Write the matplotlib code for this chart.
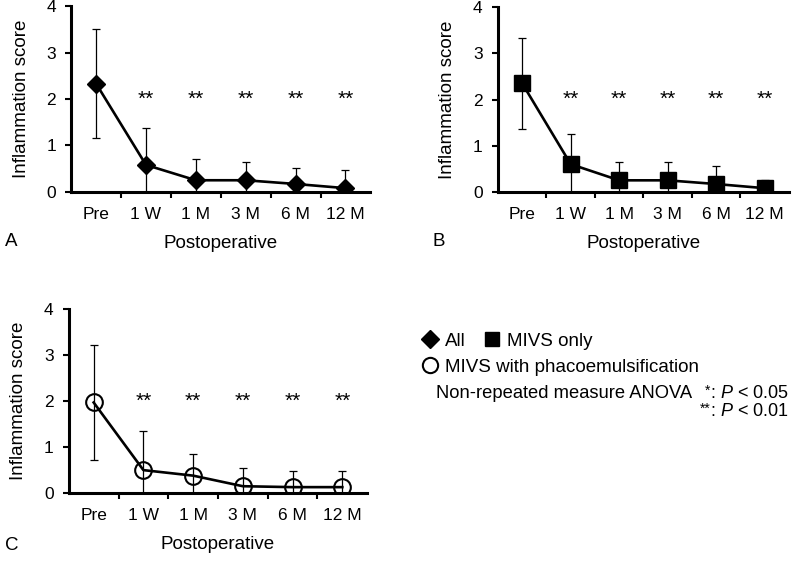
"""Inflammation score after MIVS: panels A (all), B (MIVS only), C (MIVS + phaco)."""

import matplotlib.pyplot as plt
from matplotlib.lines import Line2D

plt.rcParams["font.family"] = ["Liberation Sans", "DejaVu Sans"]
plt.rcParams["mathtext.fontset"] = "custom"
plt.rcParams["mathtext.rm"] = "Liberation Sans"
plt.rcParams["mathtext.it"] = "Liberation Sans:italic"

# ---------------------------------------------------------------------------
# data
# ---------------------------------------------------------------------------
time_points = ["Pre", "1 W", "1 M", "3 M", "6 M", "12 M"]
signif_marks = ["", "**", "**", "**", "**", "**"]

all_mean = [2.33, 0.58, 0.25, 0.25, 0.17, 0.08]
all_sd = [1.17, 0.80, 0.45, 0.39, 0.35, 0.39]

mivs_mean = [2.35, 0.60, 0.25, 0.25, 0.17, 0.08]
mivs_sd = [0.98, 0.65, 0.40, 0.40, 0.40, 0.17]

phaco_mean = [1.97, 0.50, 0.38, 0.15, 0.13, 0.13]
phaco_sd = [1.24, 0.85, 0.48, 0.39, 0.34, 0.34]

LINE_W = 1.9
TICK_FS = 12.5
LABEL_FS = 13.5

panels = [
    # label, mean, sd, marker style, axes rect, letter position (px)
    ("A", all_mean, all_sd, dict(marker="D", ms=9, mfc="black", mec="black"),
     [0.089, 0.658, 0.374, 0.331], (5, 242)),
    ("B", mivs_mean, mivs_sd, dict(marker="s", ms=12, mfc="black", mec="black"),
     [0.6225, 0.658, 0.3635, 0.329], (432, 242)),
    ("C", phaco_mean, phaco_sd, dict(marker="o", ms=12, mfc="none", mec="black", mew=1.5),
     [0.086, 0.121, 0.373, 0.328], (5, 545)),
]

fig = plt.figure(figsize=(8.0, 5.61), dpi=100)

for label, mean, sd, mstyle, rect, (lx, ly) in panels:
    ax = fig.add_axes(rect)
    x = list(range(len(time_points)))
    ax.errorbar(x, mean, yerr=sd, fmt="none", ecolor="black", elinewidth=0.9,
                capsize=3, capthick=0.9, zorder=2)
    ax.plot(x, mean, color="black", lw=LINE_W, zorder=3, **mstyle)

    for xi, mark in zip(x, signif_marks):
        if mark:
            ax.text(xi, 2.0, mark, ha="center", va="center", fontsize=15)

    ax.set_xlim(-0.5, len(time_points) - 0.5)
    ax.set_ylim(0, 4)
    ax.set_yticks([0, 1, 2, 3, 4])
    ax.set_xticks(x)
    ax.set_xticklabels(time_points)
    ax.set_xticks([i + 0.5 for i in x[:-1]], minor=True)
    ax.tick_params(axis="x", which="major", length=0, pad=11, labelsize=TICK_FS)
    ax.tick_params(axis="x", which="minor", length=4, width=1.5, direction="out")
    ax.tick_params(axis="y", length=4, width=1.5, direction="out", labelsize=TICK_FS, pad=7)

    for side in ("top", "right"):
        ax.spines[side].set_visible(False)
    for side in ("left", "bottom"):
        ax.spines[side].set_linewidth(2.2)

    ax.set_ylabel("Inflammation score", fontsize=LABEL_FS, labelpad=12)
    ax.set_xlabel("Postoperative", fontsize=LABEL_FS, labelpad=9)

    fig.text(lx / 800, 1 - ly / 561, label, fontsize=LABEL_FS, va="center", ha="left")

# legend block
h_all = Line2D([], [], color="black", lw=0, marker="D", ms=9, mfc="black")
h_mivs = Line2D([], [], color="black", lw=0, marker="s", ms=10, mfc="black")
h_phaco = Line2D([], [], color="black", lw=0, marker="o", ms=11, mfc="none", mew=1.5)

fig.legend([h_all, h_mivs], ["All", "MIVS only"], ncol=2, frameon=False,
           loc="center left", bbox_to_anchor=(406 / 800, 1 - 341 / 561),
           handlelength=0.8, handletextpad=0.4, columnspacing=1.0, fontsize=LABEL_FS)
fig.legend([h_phaco], ["MIVS with phacoemulsification"], frameon=False,
           loc="center left", bbox_to_anchor=(406 / 800, 1 - 367 / 561),
           handlelength=0.8, handletextpad=0.4, fontsize=LABEL_FS)

fig.text(436 / 800, 1 - 393 / 561, "Non-repeated measure ANOVA", fontsize=13.2,
         ha="left", va="center")

# significance key: small raised asterisks in front of ": P < ..."
p_keys = [("*", r": $\it{P}$ < 0.05", 393), ("**", r": $\it{P}$ < 0.01", 411)]
for stars, rest, ypx in p_keys:
    t = fig.text(789 / 800, 1 - ypx / 561, rest, fontsize=13, ha="right", va="center")
    fig.add_artist(plt.Annotation(stars, xy=(0, 0.62), xycoords=t, ha="right",
                                  va="center", fontsize=10))

fig.savefig("out.png", dpi=100)
